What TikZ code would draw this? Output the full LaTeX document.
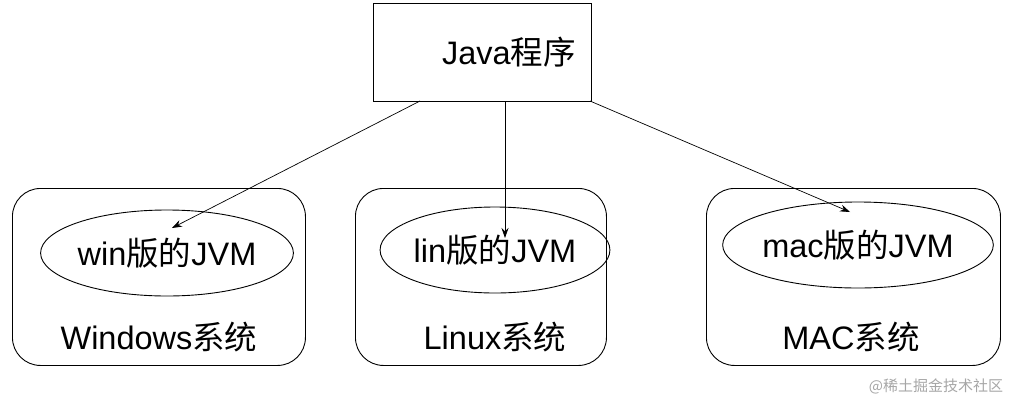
\documentclass[tikz,border=0pt]{standalone}
\usepackage{fontspec}
\setmainfont{Liberation Sans}
\newfontfamily\cjk{Noto Sans CJK SC}
\usetikzlibrary{shapes.geometric,arrows.meta}
\begin{document}
\begin{tikzpicture}[x=1pt,y=-1pt,
  lbl/.style={font=\fontsize{32.5}{36}\selectfont, inner sep=0pt},
  sys/.style={draw, rounded corners=28pt, line width=0.9pt, minimum width=293pt, minimum height=177pt, anchor=north west},
  jvm/.style={draw, ellipse, line width=0.9pt, minimum width=210pt, minimum height=86pt, font=\fontsize{32.5}{36}\selectfont, inner sep=0pt},
  arr/.style={-{Stealth[length=10pt,width=7pt]}, line width=0.7pt}]
\useasboundingbox (0,0) rectangle (1029,405);
\node[draw, line width=0.9pt, minimum width=218pt, minimum height=98pt, anchor=north west, inner sep=0pt] (java) at (373,3) {};
\node[lbl] at (509,52) {Java{\cjk 程序}};
\node[sys] (win) at (12,188) {};
\node[sys, minimum width=251pt] (lin) at (355,188) {};
\node[sys, minimum width=294pt] (mac) at (706,188) {};
\node[jvm] (ewin) at (167,253) {win{\cjk 版的}JVM};
\node[jvm] (elin) at (495,250) {lin{\cjk 版的}JVM};
\node[jvm] (emac) at (858,245) {mac{\cjk 版的}JVM};
\node[lbl] (twin) at (159,337) {Windows{\cjk 系统}};
\node[lbl] (tlin) at (495,337) {Linux{\cjk 系统}};
\node[lbl] (tmac) at (851,337) {MAC{\cjk 系统}};
\coordinate (s1) at (420,101); \coordinate (e1) at (172,228);
\coordinate (s2) at (505,101); \coordinate (e2) at (505,238);
\coordinate (s3) at (590,101); \coordinate (e3) at (850,212);
\draw[arr] (s1) -- (e1);
\draw[arr] (s2) -- (e2);
\draw[arr] (s3) -- (e3);
\node[text=gray!70, font=\cjk\fontsize{15}{17}\selectfont, inner sep=0pt] (wm) at (936,386) {@稀土掘金技术社区};
\end{tikzpicture}
\end{document}
